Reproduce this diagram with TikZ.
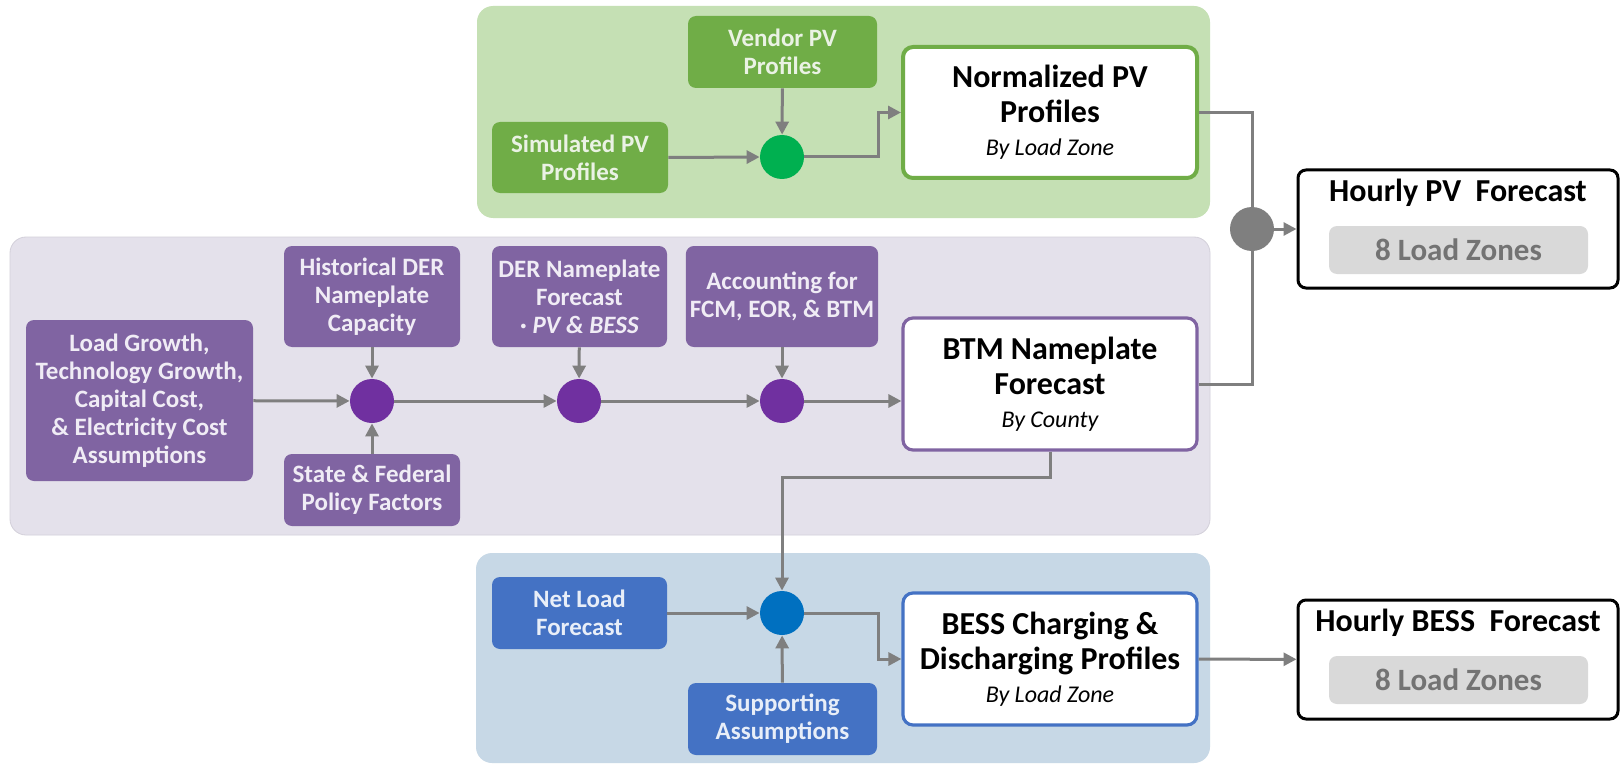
\documentclass[tikz,border=0pt]{standalone}
\usepackage{fontspec}
\setmainfont{Carlito}
\usetikzlibrary{arrows.meta,calc}

\definecolor{pvpanel}{HTML}{C5E0B4}
\definecolor{pvbox}{HTML}{70AD47}
\definecolor{pvdot}{HTML}{00B050}
\definecolor{pvtext}{HTML}{EAF2E4}
\definecolor{derpanel}{HTML}{E4E1EB}
\definecolor{derline}{HTML}{D3D0DA}
\definecolor{derbox}{HTML}{8064A2}
\definecolor{derdot}{HTML}{7030A0}
\definecolor{dertext}{HTML}{F0ECF5}
\definecolor{besspanel}{HTML}{C7D8E6}
\definecolor{bessbox}{HTML}{4472C4}
\definecolor{bessdot}{HTML}{0070C0}
\definecolor{besstext}{HTML}{E8EEF8}
\definecolor{linegray}{HTML}{7F7F7F}
\definecolor{zonefill}{HTML}{D9D9D9}
\definecolor{zonetext}{HTML}{737373}

\newcommand{\bylabel}[1]{{\mdseries\itshape\fontsize{12}{14}\selectfont #1}}

\begin{document}
\begin{tikzpicture}[x=0.5pt,y=-0.5pt,
    flow/.style={draw=linegray,line width=1.5pt,-{Triangle[length=6.5pt,width=6.5pt]}},
    link/.style={draw=linegray,line width=1.5pt},
    inbox/.style={rounded corners=4pt,align=center,inner sep=2pt,
        font=\bfseries\fontsize{12.5}{14}\selectfont},
    gbox/.style={inbox,fill=pvbox,text=pvtext},
    pbox/.style={inbox,fill=derbox,text=dertext},
    bbox/.style={inbox,fill=bessbox,text=besstext},
    outbox/.style={rounded corners=5pt,fill=white,line width=1.6pt,align=center,
        minimum width=147pt,minimum height=66pt,
        font=\bfseries\fontsize{16}{17.5}\selectfont},
    dot/.style={circle,minimum size=22pt,inner sep=0pt},
    hbox/.style={draw=black,line width=1.5pt,rounded corners=4pt,fill=white,
        minimum width=160pt,minimum height=59pt},
    htitle/.style={font=\bfseries\fontsize{16}{18}\selectfont},
    zonebox/.style={fill=zonefill,rounded corners=4pt,text=zonetext,
        minimum width=129.5pt,minimum height=24pt,inner sep=0pt,
        font=\bfseries\fontsize{15.5}{18}\selectfont},
    ]
    \useasboundingbox[fill=white] (0,0) rectangle (1623,765);

    % Panels
    \fill[pvpanel,rounded corners=8pt] (477,6) rectangle (1210,218);
    \filldraw[fill=derpanel,draw=derline,rounded corners=8pt] (10,237) rectangle (1210,535);
    \fill[besspanel,rounded corners=8pt] (476,553) rectangle (1210,763);

    % PV profiles
    \node[gbox,minimum width=94.5pt,minimum height=36pt] (vendor) at (782.5,52) {Vendor PV\\Profiles};
    \node[gbox,minimum width=88pt,minimum height=35.5pt] (simpv) at (580,157.5) {Simulated PV\\Profiles};
    \node[dot,fill=pvdot] (pvjoin) at (782,157) {};
    \node[outbox,draw=pvbox,line width=2pt,minimum height=65.5pt] (normpv) at (1050,112.5)
        {Normalized PV\\Profiles\\[-1pt]\bylabel{By Load Zone}};

    % DER nameplate
    \node[pbox,minimum width=113.5pt,minimum height=80.5pt] (growth) at (139.5,400.5)
        {Load Growth,\\Technology Growth,\\Capital Cost,\\\& Electricity Cost\\Assumptions};
    \node[pbox,minimum width=88pt,minimum height=50.5pt] (histder) at (372,296.5)
        {Historical DER\\Nameplate\\Capacity};
    \node[pbox,minimum width=88pt,minimum height=36pt] (policy) at (372,490)
        {State \& Federal\\Policy Factors};
    \node[pbox,minimum width=87.5pt,minimum height=50.5pt] (derfc) at (579.5,296.5)
        {DER Nameplate\\Forecast\\· \textit{PV \& BESS}};
    \node[pbox,minimum width=94pt,minimum height=50.5pt] (acct) at (782,296.5)
        {Accounting for\\FCM, EOR, \& BTM};
    \foreach \n/\x in {derjoina/372,derjoinb/579,derjoinc/782}
        \node[dot,fill=derdot] (\n) at (\x,401) {};
    \node[outbox,draw=derbox] (btm) at (1050,384)
        {BTM Nameplate\\Forecast\\[-1pt]\bylabel{By County}};

    % BESS profiles
    \node[bbox,minimum width=87.5pt,minimum height=36pt] (netload) at (579.5,613) {Net Load\\Forecast};
    \node[dot,fill=bessdot] (bessjoin) at (782,613) {};
    \node[bbox,minimum width=94.5pt,minimum height=36pt] (support) at (782.5,719) {Supporting\\Assumptions};
    \node[outbox,draw=bessbox] (bess) at (1050,659)
        {BESS Charging \&\\Discharging Profiles\\[-1pt]\bylabel{By Load Zone}};

    % Hourly outputs
    \node[dot,fill=linegray] (pvhub) at (1252,229) {};
    \node[hbox] (pvout) at (1458,229) {};
    \node[htitle] (pvtitle) at (1458,193) {Hourly PV~ Forecast};
    \node[zonebox] (pvzones) at (1458.5,250) {8 Load Zones};
    \node[hbox,minimum height=59.5pt] (bessout) at (1458,659.5) {};
    \node[htitle] (besstitle) at (1458,623) {Hourly BESS~ Forecast};
    \node[zonebox] (besszones) at (1458.5,680) {8 Load Zones};

    % Connectors
    \coordinate (pvbend) at (878,157);
    \coordinate (btmtap) at (782,477);
    \coordinate (bessbend) at (878,613);
    \draw[flow] (simpv.east) -- (pvjoin.west);
    \draw[flow] (vendor) -- (pvjoin);
    \draw[flow] (pvjoin.east) -- (pvbend) |- (normpv.west);
    \draw[link] (normpv.east) -| (pvhub.north);
    \draw[link] (btm.east) -| (pvhub.south);
    \draw[flow] (pvhub) -- (pvout.west);

    \foreach \a/\b in {growth/derjoina,histder/derjoina,policy/derjoina,
        derjoina/derjoinb,derfc/derjoinb,derjoinb/derjoinc,acct/derjoinc}
        \draw[flow] (\a) -- (\b);
    \draw[flow] (derjoinc.east) -- (derjoinc -| btm.west);
    \draw[flow] (btm.south) |- (btmtap) -- (bessjoin.north);

    \draw[flow] (netload) -- (bessjoin);
    \draw[flow] (support) -- (bessjoin);
    \draw[flow] (bessjoin.east) -- (bessbend) |- (bess.west);
    \draw[flow] (bess) -- (bessout);

\end{tikzpicture}
\end{document}
